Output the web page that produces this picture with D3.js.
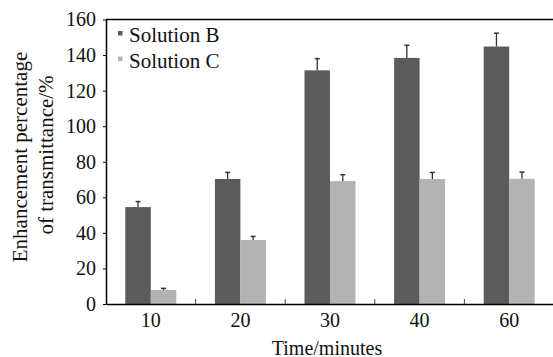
<!DOCTYPE html>
<html>
<head>
<meta charset="utf-8">
<script src="https://cdn.jsdelivr.net/npm/d3@7"></script>
</head>
<body style="margin:0">
<script>
// chart data
var times = ["10", "20", "30", "40", "60"];
var seriesNames = ["Solution B", "Solution C"];
var valuesB = [54.5, 70.3, 131.4, 138.4, 144.8];
var errorsB = [3.1, 3.7, 6.6, 7.1, 7.5];
var valuesC = [7.9, 36, 69.1, 70.3, 70.4];
var errorsC = [0.9, 2.0, 3.6, 3.7, 3.8];
var yTicks = [0, 20, 40, 60, 80, 100, 120, 140, 160];
var colors = ["#5b5b5b", "#b3b3b3"];

var serif = "'Liberation Serif'";

// set the dimensions and margins of the graph
var width = 553, height = 357;
var margin = {top: 19.5, right: -1, bottom: 53, left: 106};

var svg = d3.select("body").append("svg")
    .attr("width", width)
    .attr("height", height);

// set the ranges
var x = d3.scaleBand()
    .domain(times)
    .range([margin.left, width - margin.right])
    .padding(0);
var y = d3.scaleLinear()
    .domain([0, 160])
    .range([height - margin.bottom, margin.top]);

var barW = 25.5;
var xs = d3.scaleBand()
    .domain(seriesNames)
    .range([-barW, barW]);

var rows = [];
times.forEach(function(t, i) {
  rows.push({t: t, s: seriesNames[0], v: valuesB[i], e: errorsB[i], c: colors[0]});
  rows.push({t: t, s: seriesNames[1], v: valuesC[i], e: errorsC[i], c: colors[1]});
});

// bars
svg.selectAll(".bar")
    .data(rows)
  .enter().append("rect")
    .attr("class", "bar")
    .attr("x", function(d) { return x(d.t) + x.bandwidth() / 2 + xs(d.s); })
    .attr("width", xs.bandwidth())
    .attr("y", function(d) { return y(d.v); })
    .attr("height", function(d) { return y(0) - y(d.v); })
    .attr("fill", function(d) { return d.c; });

// error bars
var eb = svg.selectAll(".err")
    .data(rows)
  .enter().append("g")
    .attr("class", "err")
    .attr("transform", function(d) {
      return "translate(" + (x(d.t) + x.bandwidth() / 2 + xs(d.s) + xs.bandwidth() / 2) + ",0)";
    });
eb.append("line")
    .attr("y1", function(d) { return y(d.v); })
    .attr("y2", function(d) { return y(d.v + d.e); })
    .attr("stroke", "#333")
    .attr("stroke-width", 1.3);
eb.append("line")
    .attr("x1", -2.5).attr("x2", 2.5)
    .attr("y1", function(d) { return y(d.v + d.e); })
    .attr("y2", function(d) { return y(d.v + d.e); })
    .attr("stroke", "#333")
    .attr("stroke-width", 1.5);

// y axis
var yAxis = svg.append("g")
    .attr("transform", "translate(" + margin.left + ",0)")
    .call(d3.axisLeft(y).tickValues(yTicks).tickSize(3).tickPadding(7).tickSizeOuter(0));
yAxis.attr("font-family", null).attr("font-size", 20);
yAxis.select(".domain").attr("stroke-width", 1.5);
yAxis.selectAll("text").attr("fill", "#111")
    .style("font-family", serif);

// x axis with inward ticks at the category boundaries
var xAxis = svg.append("g")
    .attr("transform", "translate(0," + y(0) + ")")
    .call(d3.axisBottom(x).tickSize(0).tickPadding(9));
xAxis.attr("font-family", null).attr("font-size", 20);
xAxis.select(".domain").attr("stroke-width", 1.5);
xAxis.selectAll("text").attr("fill", "#111")
    .style("font-family", serif);
svg.selectAll(".xsep")
    .data(times.slice(1))
  .enter().append("line")
    .attr("x1", function(d) { return x(d); })
    .attr("x2", function(d) { return x(d); })
    .attr("y1", y(0))
    .attr("y2", y(0) - 5)
    .attr("stroke", "#444")
    .attr("stroke-width", 1);

// top frame line
svg.append("line")
    .attr("x1", margin.left).attr("x2", width)
    .attr("y1", margin.top).attr("y2", margin.top)
    .attr("stroke", "#000")
    .attr("stroke-width", 1.5);

// legend
var legend = svg.selectAll(".legend")
    .data(seriesNames)
  .enter().append("g")
    .attr("class", "legend")
    .attr("transform", function(d, i) { return "translate(118," + (31 + i * 25.5) + ")"; });
legend.append("rect")
    .attr("width", 4.5).attr("height", 4.5)
    .attr("fill", function(d, i) { return colors[i]; });
legend.append("text")
    .attr("x", 11).attr("y", 11)
    .attr("fill", "#111")
    .attr("font-size", 21)
    .style("font-family", serif)
    .text(function(d) { return d; });

// axis titles
svg.append("text")
    .attr("transform", "translate(27,157) rotate(-90)")
    .attr("text-anchor", "middle")
    .attr("fill", "#111")
    .attr("font-size", 21)
    .style("font-family", serif)
    .text("Enhancement percentage");
svg.append("text")
    .attr("transform", "translate(53,155) rotate(-90)")
    .attr("text-anchor", "middle")
    .attr("fill", "#111")
    .attr("font-size", 21)
    .style("font-family", serif)
    .text("of transmittance/%");
svg.append("text")
    .attr("x", 327).attr("y", 355)
    .attr("text-anchor", "middle")
    .attr("fill", "#111")
    .attr("font-size", 20)
    .style("font-family", serif)
    .text("Time/minutes");
</script>
</body>
</html>
